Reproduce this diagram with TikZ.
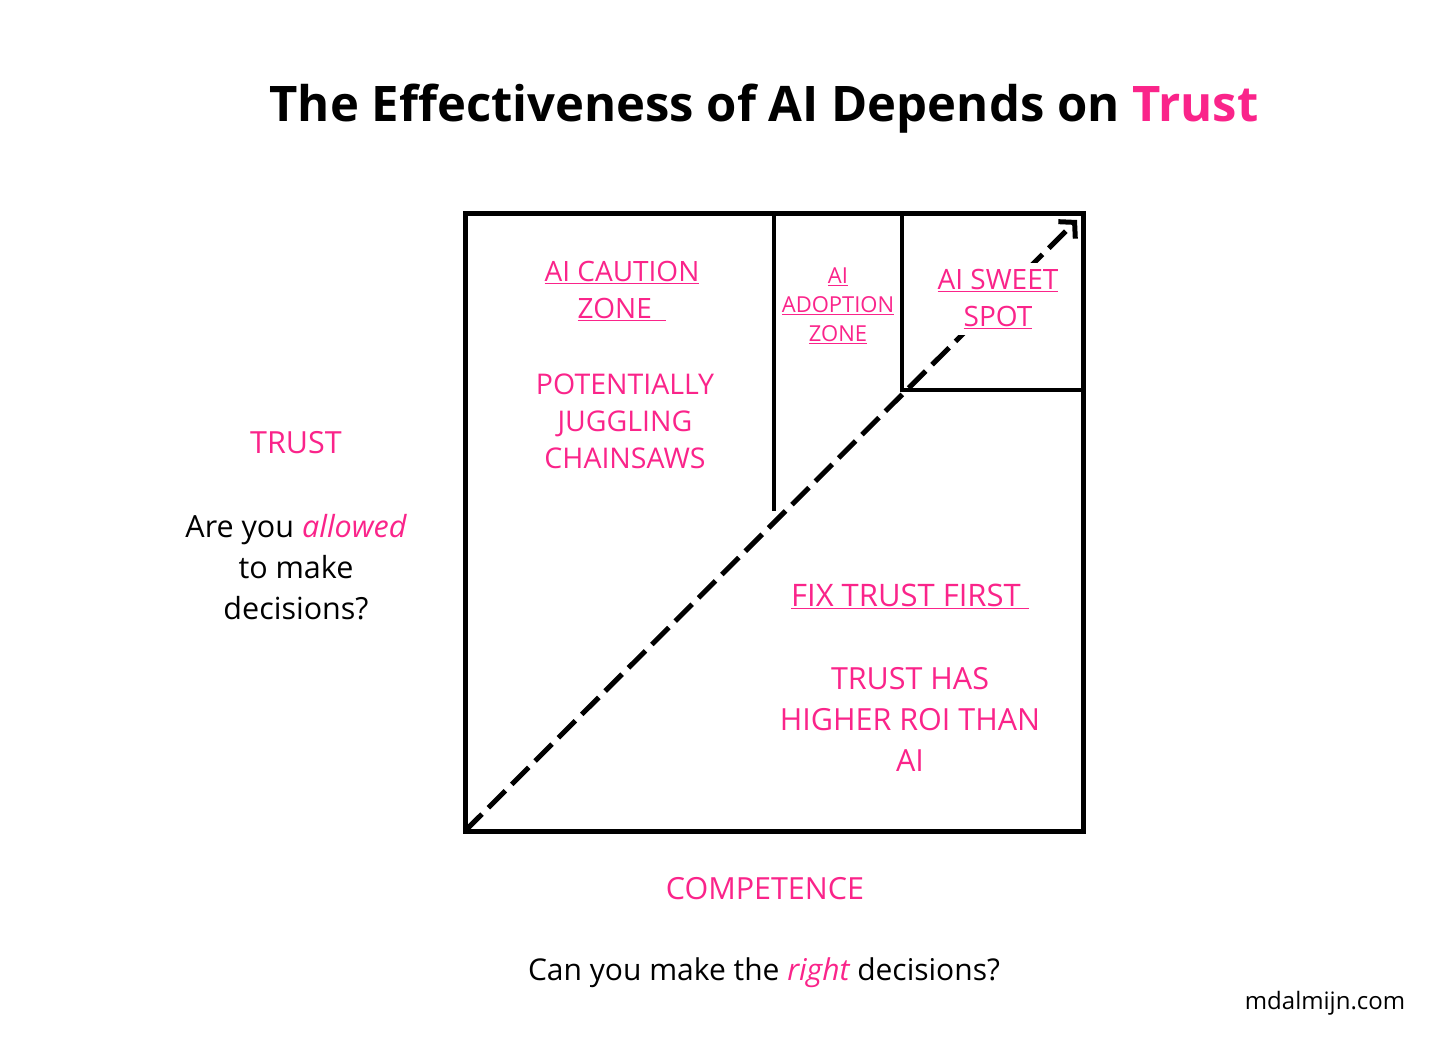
\documentclass[tikz,border=0pt]{standalone}
\usepackage{fontspec}
\setmainfont{Open Sans}
\usetikzlibrary{arrows.meta,positioning}
\definecolor{hotpink}{RGB}{250,36,138}

\begin{document}
\begin{tikzpicture}[
x=1pt, y=-1pt,
zone/.style={text=hotpink, align=center, font=\fontsize{28}{37}\selectfont},
smallzone/.style={text=hotpink, align=center, font=\fontsize{22}{29}\selectfont},
axis/.style={text=hotpink, align=center, font=\fontsize{30.5}{41}\selectfont},
question/.style={text=black, align=center, font=\fontsize{30.5}{41}\selectfont},
frame/.style={draw, line width=5pt},
divider/.style={draw, line width=4pt},
trend/.style={line width=5pt, dash pattern=on 24pt off 9pt, -{Straight Barb[length=11pt,width=24pt]}}
]

\useasboundingbox (0,0) rectangle (1456,1048);

% title
\node[font=\fontsize{49}{60}\selectfont\bfseries] (title) at (764,109) {The Effectiveness of AI Depends on \textcolor{hotpink}{Trust}};

% matrix corners
\coordinate (sw) at (465,831);
\coordinate (ne) at (1083,214);
\coordinate (tip) at (1077,220);
\coordinate (cautiontop) at (774,214);
\coordinate (cautionend) at (774,511);
\coordinate (sweettop) at (902,214);
\coordinate (sweetcorner) at (902,390);
\coordinate (sweetright) at (1083,390);

\draw[frame] (sw) rectangle (ne);
\draw[divider] (cautiontop) -- (cautionend);
\draw[divider] (sweettop) -- (sweetcorner) -- (sweetright);

\draw[trend] (sw) -- (tip);

% zones
\node[zone] (caution) at (622,291) {\underline{AI CAUTION}\\\underline{ZONE\ \ }};
\node[zone, font=\fontsize{28.5}{37}\selectfont] (chainsaws) at (625,421) {POTENTIALLY\\JUGGLING\\CHAINSAWS};
\node[smallzone] (adoption) at (838,306) {\underline{AI}\\\underline{ADOPTION}\\\underline{ZONE}};
\node[zone, fill=white, inner sep=6pt] (sweet) at (998,299) {\underline{AI SWEET}\\\underline{SPOT}};
\node[axis, font=\fontsize{31}{41}\selectfont] (fix) at (910,596) {\underline{FIX TRUST FIRST\ }};
\node[axis] (roi) at (910,719) {TRUST HAS\\HIGHER ROI THAN\\AI};

% axes
\node[axis] (trust) at (296,443) {TRUST};
\node[question] (allowed) at (296,567) {Are you \textcolor{hotpink}{\itshape allowed}\\to make\\decisions?};
\node[axis] (competence) at (765,889) {COMPETENCE};
\node[question, font=\fontsize{30}{41}\selectfont] (right) at (764,973) {Can you make the \textcolor{hotpink}{\itshape right} decisions?};

\node[font=\fontsize{24}{28}\selectfont] (site) at (1325,1003) {mdalmijn.com};

\end{tikzpicture}
\end{document}
